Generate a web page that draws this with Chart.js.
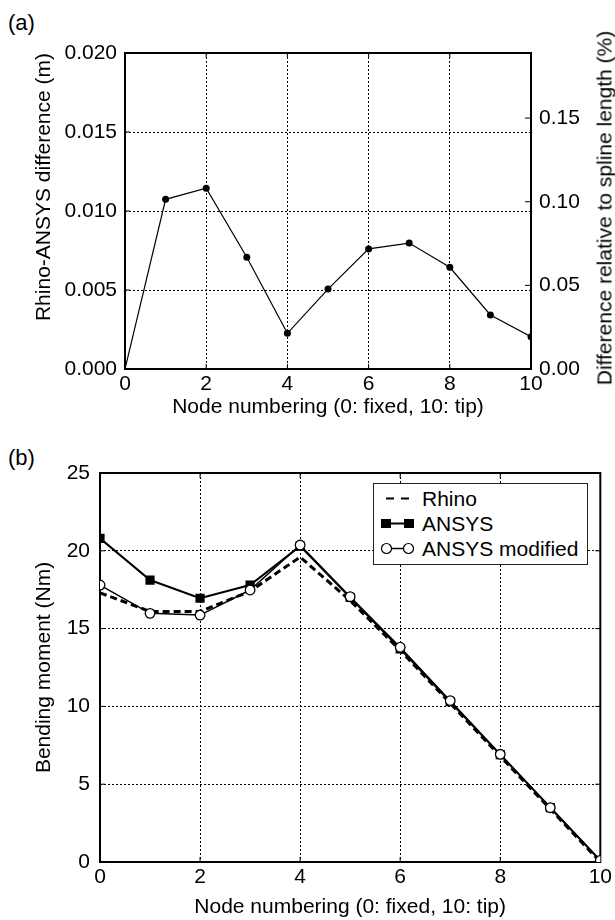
<!DOCTYPE html>
<html>
<head>
<meta charset="utf-8">
<script src="https://cdn.jsdelivr.net/npm/chart.js@4.4.1/dist/chart.umd.min.js"></script>
<style>
body { margin: 0; width: 615px; height: 920px; position: relative; background: #fff; overflow: hidden;
       font-family: "Liberation Sans", Arial, sans-serif; }
.panel { position: absolute; left: 0; }
.tag { position: absolute; left: 8px; font-size: 22px; line-height: 1; color: #000; }
#rightTitle { position: absolute; left: 604px; top: 208px; font-size: 21px; line-height: 1; color: #000; white-space: nowrap;
              transform: translate(-50%, -50%) rotate(-90deg); z-index: 2; }
#legend { position: absolute; left: 373px; top: 483px; width: 215px; height: 82px; box-sizing: border-box;
          border: 1.5px solid #222; background: #fff; padding-top: 2px; z-index: 2; }
#legend .row { display: flex; align-items: center; height: 25px; font-size: 21px; color: #000; }
#legend svg { flex: none; }
</style>
</head>
<body>
<div class="tag" style="top:12px">(a)</div>
<div class="tag" style="top:447px">(b)</div>
<div class="panel" style="top:0"><canvas id="chartA" width="615" height="420"></canvas></div>
<div class="panel" style="top:425px"><canvas id="chartB" width="615" height="495"></canvas></div>
<div id="rightTitle">Difference relative to spline length (%)</div>
<div id="legend">
  <div class="row"><svg width="48" height="25"><line x1="12" y1="12.5" x2="35" y2="12.5" stroke="#000" stroke-width="2" stroke-dasharray="8,7"/></svg><span>Rhino</span></div>
  <div class="row"><svg width="48" height="25"><line x1="12" y1="12.5" x2="35" y2="12.5" stroke="#000" stroke-width="2"/><rect x="7" y="8" width="10" height="9" fill="#000"/><rect x="30" y="8" width="10" height="9" fill="#000"/></svg><span>ANSYS</span></div>
  <div class="row"><svg width="48" height="25"><line x1="12" y1="12.5" x2="35" y2="12.5" stroke="#000" stroke-width="1.5"/><circle cx="12.5" cy="12.5" r="5" fill="#fff" stroke="#000" stroke-width="1.2"/><circle cx="34.5" cy="12.5" r="5" fill="#fff" stroke="#000" stroke-width="1.2"/></svg><span>ANSYS modified</span></div>
</div>
<script>
// node numbers (0: fixed, 10: tip)
const nodes = [0, 1, 2, 3, 4, 5, 6, 7, 8, 9, 10];

// (a) Rhino-ANSYS difference in metres
const diffMetres = [0, 0.01074, 0.01144, 0.00707, 0.00226, 0.00506, 0.0076, 0.00797, 0.00644, 0.00342, 0.00204];
const diffMax = 0.020;
const diffPercentMax = 0.1889; // right axis value at 0.020 m

// (b) bending moment (Nm)
const rhinoMoment = [17.3, 16.1, 16.1, 17.4, 19.6, 16.8, 13.6, 10.2, 6.8, 3.4, 0.0];
const ansysMoment = [20.8, 18.12, 16.95, 17.8, 20.3, 17.0, 13.7, 10.3, 6.9, 3.5, 0.1];
const ansysModMoment = [17.8, 15.98, 15.87, 17.48, 20.37, 17.05, 13.8, 10.37, 6.92, 3.49, 0.1];

const xTickStep = 2;
const diffTickStep = 0.005;
const percentTickStep = 0.05;
const momentTickStep = 5;

const toPoints = ys => nodes.map((n, i) => ({ x: n, y: ys[i] }));

const FONT = '"Liberation Sans", Arial, sans-serif';
const tickFont = { family: FONT, size: 21 };
const titleFont = { family: FONT, size: 21 };

// box frame + small inward ticks like the original plots
const framePlugin = {
    id: 'frame',
    beforeDatasetsDraw(chart) {
        const { ctx, chartArea: a, scales } = chart;
        ctx.save();
        ctx.strokeStyle = '#000';
        ctx.setLineDash([]);
        ctx.lineWidth = 1;
        ctx.beginPath();
        scales.x.ticks.forEach(t => {
            const px = scales.x.getPixelForValue(t.value);
            ctx.moveTo(px, a.bottom); ctx.lineTo(px, a.bottom - 5);
            ctx.moveTo(px, a.top); ctx.lineTo(px, a.top + 5);
        });
        scales.y.ticks.forEach(t => {
            const py = scales.y.getPixelForValue(t.value);
            ctx.moveTo(a.left, py); ctx.lineTo(a.left + 5, py);
            if (!scales.y2) { ctx.moveTo(a.right, py); ctx.lineTo(a.right - 5, py); }
        });
        if (scales.y2) {
            scales.y2.ticks.forEach(t => {
                const py = scales.y2.getPixelForValue(t.value);
                ctx.moveTo(a.right, py); ctx.lineTo(a.right - 6, py);
            });
        }
        ctx.stroke();
        ctx.lineWidth = 2;
        ctx.strokeRect(a.left, a.top, a.right - a.left, a.bottom - a.top);
        ctx.restore();
    }
};

function xScale(height) {
    return {
        type: 'linear',
        min: 0,
        max: 10,
        afterFit: s => { s.height = height; },
        ticks: { stepSize: xTickStep, color: '#000', font: tickFont, padding: 3, maxRotation: 0 },
        grid: { color: '#000', lineWidth: 1, drawTicks: false },
        border: { display: false, dash: [2, 2] },
        title: { display: true, text: 'Node numbering (0: fixed, 10: tip)', color: '#000', font: titleFont, padding: 0 }
    };
}

new Chart(document.getElementById('chartA'), {
    type: 'line',
    data: {
        datasets: [{
            label: 'Difference',
            data: toPoints(diffMetres),
            borderColor: '#000',
            borderWidth: 1.2,
            backgroundColor: '#000',
            pointRadius: ctx => ctx.dataIndex === 0 ? 0 : 3.5,
            pointBorderWidth: 0,
            tension: 0,
            yAxisID: 'y'
        }]
    },
    options: {
        responsive: false,
        animation: false,
        layout: { padding: { top: 53, left: 0, right: 0, bottom: 0 } },
        plugins: { legend: { display: false }, tooltip: { enabled: false } },
        scales: {
            x: xScale(51),
            y: {
                type: 'linear',
                min: 0,
                max: diffMax,
                afterFit: s => { s.width = 125; },
                ticks: { stepSize: diffTickStep, color: '#000', font: tickFont, padding: 8, callback: v => v.toFixed(3) },
                grid: { color: '#000', lineWidth: 1, drawTicks: false },
                border: { display: false, dash: [2, 2] },
                title: { display: true, text: 'Rhino-ANSYS difference (m)', align: 'end', color: '#000', font: titleFont, padding: { top: 32, bottom: 0 } }
            },
            y2: {
                type: 'linear',
                position: 'right',
                min: 0,
                max: diffPercentMax,
                afterFit: s => { s.width = 84; },
                ticks: { stepSize: percentTickStep, includeBounds: false, color: '#000', font: tickFont, padding: 8, callback: v => v.toFixed(2) },
                grid: { drawOnChartArea: false, drawTicks: false },
                border: { display: false }
            }
        }
    },
    plugins: [framePlugin]
});

new Chart(document.getElementById('chartB'), {
    type: 'line',
    data: {
        datasets: [{
            label: 'ANSYS modified',
            data: toPoints(ansysModMoment),
            borderColor: '#000',
            borderWidth: 1.5,
            backgroundColor: '#fff',
            pointBackgroundColor: '#fff',
            pointBorderColor: '#000',
            pointBorderWidth: 1.3,
            pointRadius: 4.8,
            tension: 0,
            order: 0
        }, {
            label: 'ANSYS',
            data: toPoints(ansysMoment),
            borderColor: '#000',
            borderWidth: 2,
            backgroundColor: '#000',
            pointStyle: 'rect',
            pointRadius: 6.5,
            pointBorderWidth: 0,
            tension: 0,
            order: 1
        }, {
            label: 'Rhino',
            data: toPoints(rhinoMoment),
            borderColor: '#000',
            borderWidth: 3,
            borderDash: [7, 4],
            pointRadius: 0,
            tension: 0,
            order: 2
        }]
    },
    options: {
        responsive: false,
        animation: false,
        layout: { padding: { top: 48, left: 0, right: 12, bottom: 0 } },
        plugins: { legend: { display: false }, tooltip: { enabled: false } },
        scales: {
            x: xScale(58),
            y: {
                type: 'linear',
                min: 0,
                max: 25,
                afterFit: s => { s.width = 100; },
                ticks: { stepSize: momentTickStep, color: '#000', font: tickFont, padding: 10 },
                grid: { color: '#000', lineWidth: 1, drawTicks: false },
                border: { display: false, dash: [2, 2] },
                title: { display: true, text: 'Bending moment (Nm)', color: '#000', font: titleFont, padding: { top: 32, bottom: 0 } }
            }
        }
    },
    plugins: [framePlugin]
});
</script>
</body>
</html>
